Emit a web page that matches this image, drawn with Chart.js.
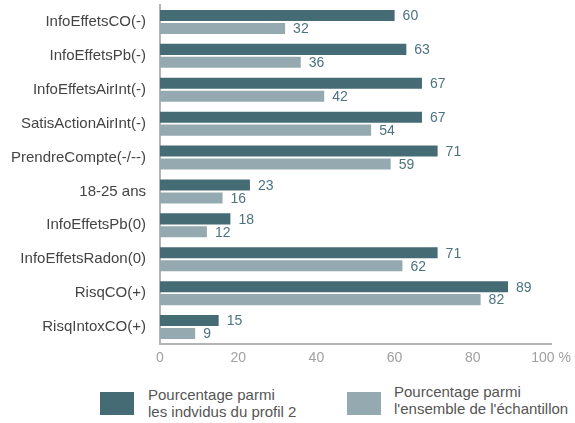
<!DOCTYPE html>
<html>
<head>
<meta charset="utf-8">
<script src="https://cdn.jsdelivr.net/npm/chart.js@4"></script>
<style>
  html, body { margin: 0; padding: 0; background: #fff; }
  #wrap { position: relative; width: 575px; height: 423px; font-family: "Liberation Sans", Arial, sans-serif; }
  #wrap canvas { position: absolute; left: 0; top: 0; }
  .lg-box { position: absolute; width: 34px; height: 23px; }
  .lg-txt { position: absolute; font-size: 15px; line-height: 17px; color: #555; white-space: nowrap; }
</style>
</head>
<body>
<div id="wrap">
  <canvas id="ch" width="575" height="372"></canvas>
  <div class="lg-box" style="left:100px; top:392px; background:#456b75;"></div>
  <div class="lg-txt" style="left:148px; top:386px;">Pourcentage parmi<br>les indvidus du profil 2</div>
  <div class="lg-box" style="left:347px; top:392px; background:#94aab0;"></div>
  <div class="lg-txt" style="left:394px; top:383px;">Pourcentage parmi<br>l'ensemble de l'échantillon</div>
</div>
<script>
  // categories et valeurs
  const categories = ['InfoEffetsCO(-)', 'InfoEffetsPb(-)', 'InfoEffetsAirInt(-)', 'SatisActionAirInt(-)',
    'PrendreCompte(-/--)', '18-25 ans', 'InfoEffetsPb(0)', 'InfoEffetsRadon(0)', 'RisqCO(+)', 'RisqIntoxCO(+)'];
  const profil2 = [60, 63, 67, 67, 71, 23, 18, 71, 89, 15];
  const ensemble = [32, 36, 42, 54, 59, 16, 12, 62, 82, 9];
  const xTicks = [0, 20, 40, 60, 80, 100];

  const FONT = '"Liberation Sans", Arial, sans-serif';

  // etiquettes de valeur au bout des barres
  const valueLabels = {
    id: 'valueLabels',
    afterDatasetsDraw(chart) {
      const ctx = chart.ctx;
      ctx.save();
      ctx.font = '14px ' + FONT;
      ctx.fillStyle = '#4d7280';
      ctx.textBaseline = 'middle';
      ctx.textAlign = 'left';
      chart.data.datasets.forEach((ds, i) => {
        chart.getDatasetMeta(i).data.forEach((bar, j) => {
          ctx.fillText(String(ds.data[j]), bar.x + 8, bar.y + 1);
        });
      });
      ctx.restore();
    }
  };

  new Chart(document.getElementById('ch'), {
    type: 'bar',
    data: {
      labels: categories,
      datasets: [
        { label: 'Pourcentage parmi les indvidus du profil 2', data: profil2, backgroundColor: '#456b75' },
        { label: "Pourcentage parmi l'ensemble de l'échantillon", data: ensemble, backgroundColor: '#94aab0' }
      ]
    },
    options: {
      indexAxis: 'y',
      responsive: false,
      animation: false,
      layout: { padding: { top: 5, right: 24, left: 0, bottom: 0 } },
      datasets: { bar: { categoryPercentage: 0.765, barPercentage: 0.85 } },
      plugins: { legend: { display: false }, tooltip: { enabled: false } },
      scales: {
        x: {
          min: 0, max: 100,
          afterBuildTicks: s => { s.ticks = xTicks.map(v => ({ value: v })); },
          afterFit: s => { s.height = 28; s.paddingLeft = 0; s.paddingRight = 0; },
          grid: { display: false, drawTicks: false },
          border: { color: '#b4b4b4', width: 2 },
          ticks: {
            padding: 6,
            color: '#a0a0a0',
            font: { family: FONT, size: 14 },
            callback: v => v === 100 ? '100 %' : v
          }
        },
        y: {
          afterFit: s => { s.width = 160; s.paddingTop = 0; s.paddingBottom = 0; },
          grid: { display: false, drawTicks: false },
          border: { color: '#b4b4b4', width: 2 },
          ticks: {
            padding: 14,
            color: '#444',
            font: { family: FONT, size: 15 }
          }
        }
      }
    },
    plugins: [valueLabels]
  });
</script>
</body>
</html>
